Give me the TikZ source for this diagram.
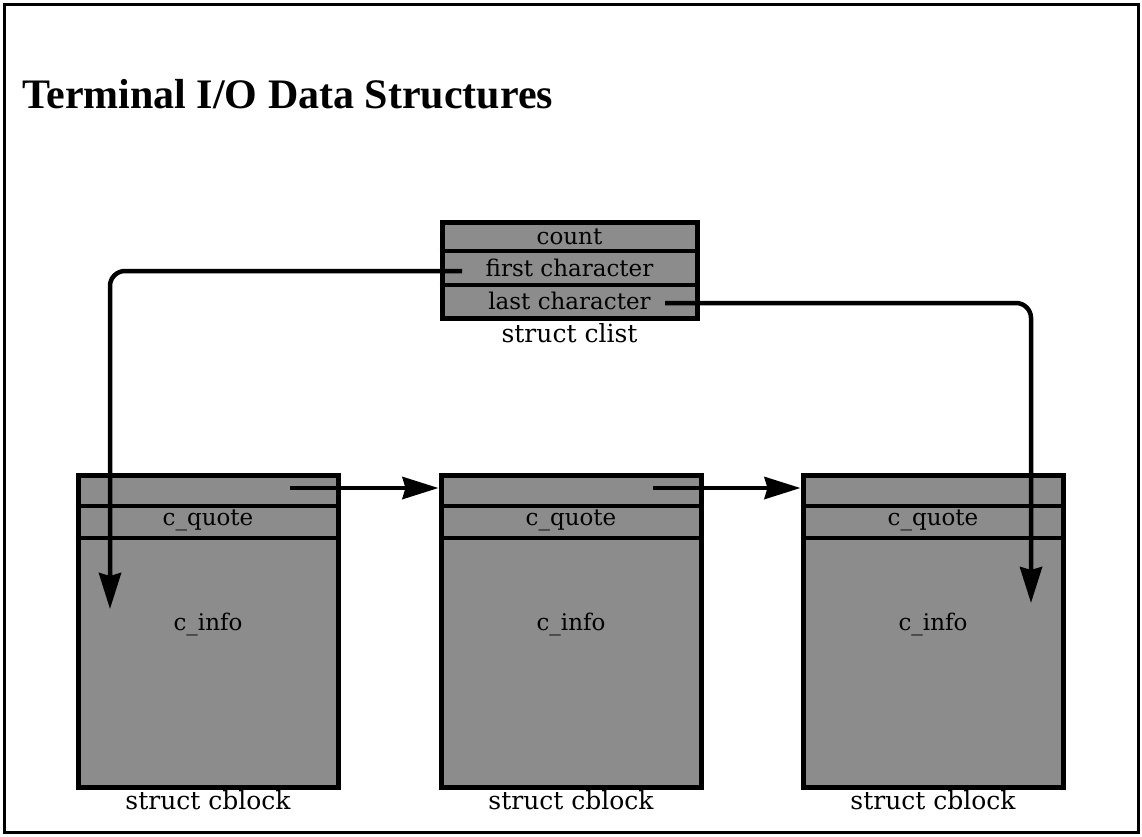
\documentclass[tikz,border=0pt]{standalone}
\usepackage{fontspec}
\setmainfont{DejaVu Serif}
\newfontfamily\titlefont{Liberation Serif}
\usetikzlibrary{arrows.meta}
\begin{document}
\begin{tikzpicture}[x=1pt,y=-1pt,
  box/.style={draw, line width=5pt, fill=black!45, inner sep=0pt},
  sepline/.style={line width=4.5pt},
  field/.style={font=\fontsize{23}{26}\selectfont, inner sep=0pt},
  caption/.style={font=\fontsize{25}{28}\selectfont, inner sep=0pt},
  ptr/.style={line width=4.5pt, -{Stealth[length=36pt,width=22pt,inset=3pt]}},
  ]
\useasboundingbox (0,0) rectangle (1142,836);
\draw[line width=3pt] (4,4) rectangle (1138,832);
\node[anchor=base west, inner sep=0pt, font=\titlefont\bfseries\fontsize{42}{48}\selectfont] (title) at (22,108) {Terminal I/O Data Structures};

% struct clist
\node[box, minimum width=255pt, minimum height=96pt] (clist) at (569.5,270) {};
\coordinate (s1) at (0,251);
\coordinate (s2) at (0,285);
\draw[sepline] (clist.west |- s1) -- (clist.east |- s1);
\draw[sepline] (clist.west |- s2) -- (clist.east |- s2);
\node[field] (count) at (569.5,237) {count};
\node[field] (first) at (569.5,268) {first character};
\node[field] (last) at (569.5,301) {last character};
\node[caption] (clistcap) at (569.5,333) {struct clist};

% struct cblocks
\coordinate (s3) at (0,506);
\coordinate (s4) at (0,538);
\foreach \i/\cx in {1/208,2/571,3/933} {
  \node[box, minimum width=260pt, minimum height=312pt] (cb\i) at (\cx,631) {};
  \draw[sepline] (cb\i.west |- s3) -- (cb\i.east |- s3);
  \draw[sepline] (cb\i.west |- s4) -- (cb\i.east |- s4);
  \node[field] (q\i) at (\cx,520) {c\_quote};
  \node[field] (inf\i) at (\cx,624) {c\_info};
  \node[caption] (cap\i) at (\cx,800) {struct cblock};
}

% pointers
\coordinate (fc) at (462,271);
\coordinate (e1) at (110,609);
\draw[ptr, rounded corners=15pt] (fc) -| (e1);
\coordinate (lc) at (665,303);
\coordinate (e3) at (1031,603);
\draw[ptr, rounded corners=15pt] (lc) -| (e3);
\coordinate (n1) at (290,488);
\coordinate (n2) at (653,488);
\draw[ptr] (n1) -- (cb2.west |- n1);
\draw[ptr] (n2) -- (cb3.west |- n2);
\end{tikzpicture}
\end{document}
